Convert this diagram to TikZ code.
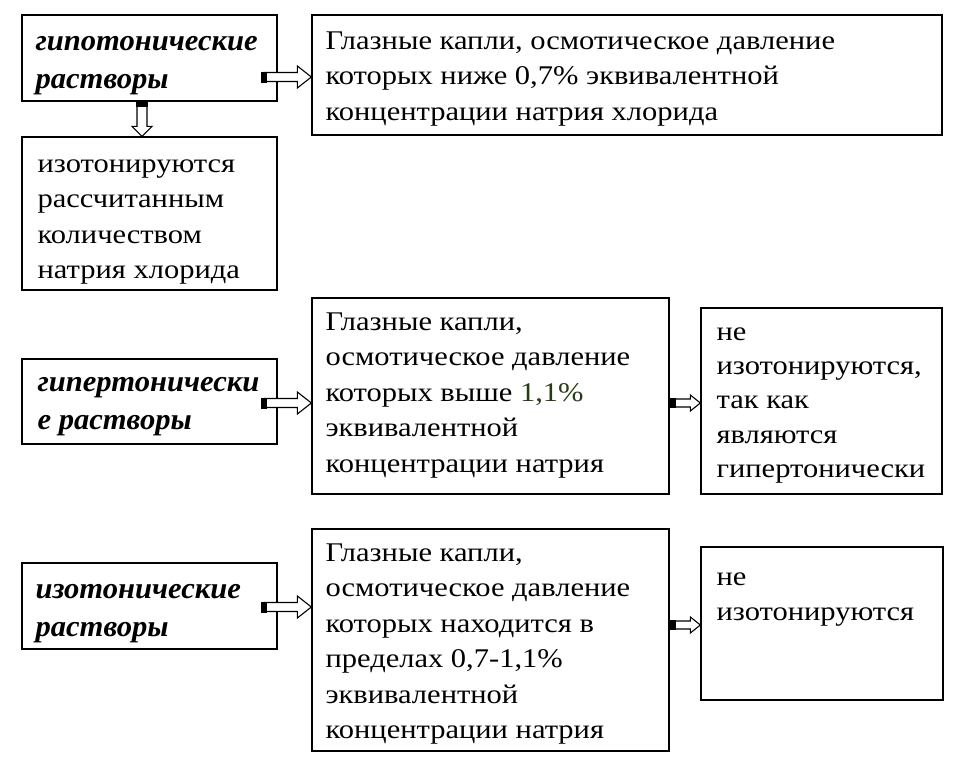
\documentclass[tikz,border=0pt]{standalone}
\usepackage{fontspec}
\setmainfont{Liberation Serif}[FakeStretch=1.13]
\newfontfamily\leftfont{Liberation Serif}[FakeStretch=1.02]
\usetikzlibrary{calc}
\definecolor{numgreen}{RGB}{40,60,20}
\tikzset{
  box/.style={draw, line width=1.3pt, rectangle, inner sep=0pt, fill=white},
  txt/.style={anchor=north west, align=left, inner sep=0pt, font=\fontsize{27}{35.5}\selectfont},
  ntxt/.style={anchor=north west, align=left, inner sep=0pt, font=\fontsize{27}{34.3}\selectfont},
  ltxt/.style={anchor=north west, align=left, inner sep=0pt, font=\leftfont\fontsize{30}{37.5}\selectfont\bfseries\itshape},
}
% block arrow: start, end, angle, shaft half-width, head half-width, head length
\newcommand\blkarrow[6]{%
  \begin{scope}[shift={(#1)}, rotate=#3]
    \draw[line width=1.1pt, fill=white, line join=miter] let \p1=($(#2)-(#1)$), \n1={veclen(\x1,\y1)} in
      (3pt,-#4pt) -- ({\n1-#6pt},-#4pt) -- ({\n1-#6pt},-#5pt) -- (\n1,0pt)
      -- ({\n1-#6pt},#5pt) -- ({\n1-#6pt},#4pt) -- (3pt,#4pt) -- cycle;
    \fill (0pt,{-#4pt-1pt}) rectangle (6pt,{#4pt+1pt});
  \end{scope}}
\begin{document}
\begin{tikzpicture}[x=1pt, y=-1pt]
\useasboundingbox[fill=white] (0,0) rectangle (962,764);
% boxes
\node[box, minimum width=255pt, minimum height=86pt] (A) at (149.5,58) {};
\node[box, minimum width=630pt, minimum height=120pt] (B) at (627,75) {};
\node[box, minimum width=255pt, minimum height=153pt] (C) at (149.5,213.5) {};
\node[box, minimum width=255pt, minimum height=85pt] (D) at (149.5,401.5) {};
\node[box, minimum width=357pt, minimum height=196pt] (E) at (490.5,396) {};
\node[box, minimum width=241pt, minimum height=186pt] (F) at (821.5,401) {};
\node[box, minimum width=255pt, minimum height=86pt] (G) at (149.5,606) {};
\node[box, minimum width=357pt, minimum height=222pt] (H) at (490.5,640) {};
\node[box, minimum width=242pt, minimum height=153pt] (I) at (822,623.5) {};
% texts
\node[ltxt] (tA) at ([xshift=14pt,yshift=-22pt]A.north west) {гипотонические\\растворы};
\node[txt] (tB) at ([xshift=14pt,yshift=-17pt]B.north west) {Глазные капли, осмотическое давление\\которых ниже 0,7\% эквивалентной\\концентрации натрия хлорида};
\node[txt] (tC) at ([xshift=16pt,yshift=-23pt]C.north west) {изотонируются\\рассчитанным\\количеством\\натрия хлорида};
\node[ltxt] (tD) at ([xshift=16pt,yshift=-19pt]D.north west) {гипертонически\\е растворы};
\node[txt] (tE) at ([xshift=14pt,yshift=-15pt]E.north west) {Глазные капли,\\осмотическое давление\\которых выше {\color{numgreen}1,1\%}\\эквивалентной\\концентрации натрия};
\node[ntxt] (tF) at ([xshift=16pt,yshift=-20pt]F.north west) {не\\изотонируются,\\так как\\являются\\гипертонически};
\node[ltxt] (tG) at ([xshift=14pt,yshift=-22pt]G.north west) {изотонические\\растворы};
\node[txt] (tH) at ([xshift=14pt,yshift=-15pt]H.north west) {Глазные капли,\\осмотическое давление\\которых находится в\\пределах 0,7-1,1\%\\эквивалентной\\концентрации натрия};
\node[txt] (tI) at ([xshift=16pt,yshift=-26pt]I.north west) {не\\изотонируются};
% arrow end points
\coordinate (a1s) at (261,77);  \coordinate (a1e) at (B.west |- a1s);
\coordinate (a2s) at (142,101); \coordinate (a2e) at (a2s |- C.north);
\coordinate (a3s) at (261,403); \coordinate (a3e) at (E.west |- a3s);
\coordinate (a4s) at (E.east |- 0,403); \coordinate (a4e) at (F.west |- a4s);
\coordinate (a5s) at (261,607); \coordinate (a5e) at (H.west |- a5s);
\coordinate (a6s) at (H.east |- 0,625); \coordinate (a6e) at (I.west |- a6s);
\blkarrow{a1s}{a1e}{0}{4.5}{11}{14}
\blkarrow{a2s}{a2e}{-90}{5}{10}{10}
\blkarrow{a3s}{a3e}{0}{4.5}{11}{14}
\blkarrow{a4s}{a4e}{0}{4}{8}{10}
\blkarrow{a5s}{a5e}{0}{4.5}{11}{14}
\blkarrow{a6s}{a6e}{0}{4}{8}{10}
\end{tikzpicture}
\end{document}
